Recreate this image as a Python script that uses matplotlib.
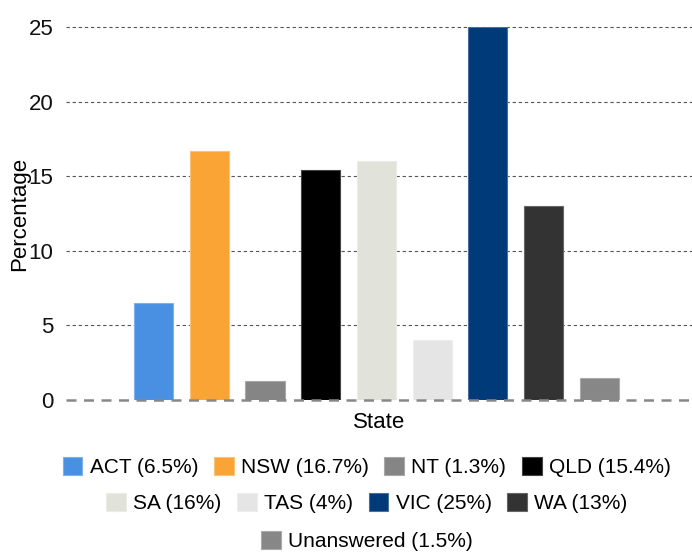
import matplotlib.pyplot as plt
import matplotlib.patches as mpatches
import numpy as np

plt.rcParams['font.family'] = ['Liberation Sans', 'DejaVu Sans']

states = ["ACT", "NSW", "NT", "QLD", "SA", "TAS", "VIC", "WA", "Unanswered"]
values = [6.5, 16.7, 1.3, 15.4, 16, 4, 25, 13, 1.5]
legend_labels = ["ACT (6.5%)", "NSW (16.7%)", "NT (1.3%)", "QLD (15.4%)",
                 "SA (16%)", "TAS (4%)", "VIC (25%)", "WA (13%)",
                 "Unanswered (1.5%)"]
colors = ["#4a90e2", "#f9a435", "#858585", "#000000", "#e1e2da",
          "#e5e5e5", "#003a78", "#333333", "#878787"]
edges = ["#7fb0ec", "#fbc27a", "#a8a8a8", "#444444", "#ebece6",
         "#eeeeee", "#4a6f9a", "#666666", "#aaaaaa"]

fig = plt.figure(figsize=(6.92, 5.52), dpi=100)
ax = fig.add_axes([66 / 692, 1 - 400 / 552, 1 - 66 / 692, 373 / 552])

x = np.arange(len(states))
ax.bar(x, values, 0.7, color=colors, edgecolor=edges, linewidth=0.8, zorder=3)

ax.set_ylim(0, 25)
ax.set_xlim(-1.57, 9.66)
ax.set_yticks([0, 5, 10, 15, 20, 25])
ax.set_xticks([])
ax.tick_params(axis="y", length=0, labelsize=16, pad=9, colors="#111111")
for s in ax.spines.values():
    s.set_visible(False)
for yv in [5, 10, 15, 20, 25]:
    ax.axhline(yv, color="#555555", linestyle=(0, (3, 2.5)), linewidth=0.8,
               zorder=1, clip_on=False)
ax.axhline(0, color="#888888", linestyle=(0, (4, 3)), linewidth=1.8,
           zorder=4, clip_on=False)

ax.set_ylabel("Percentage", fontsize=16, va="center")
ax.set_xlabel("State", fontsize=16, va="center")
ax.yaxis.set_label_coords(-0.074, 0.5)
ax.xaxis.set_label_coords(0.5, -0.059)

handles = [mpatches.Patch(facecolor=c, edgecolor=e, linewidth=0.8)
           for c, e in zip(colors, edges)]
rows = [(0, 4, 467), (4, 8, 503), (8, 9, 541)]
for a, b, ypix in rows:
    fig.legend(handles[a:b], legend_labels[a:b], loc="center",
               bbox_to_anchor=(0.53, 1 - ypix / 552), ncol=b - a,
               frameon=False, fontsize=15, handlelength=0.95, handleheight=0.95,
               handletextpad=0.35, columnspacing=0.75, borderpad=0)

fig.savefig("out.png", dpi=100)
